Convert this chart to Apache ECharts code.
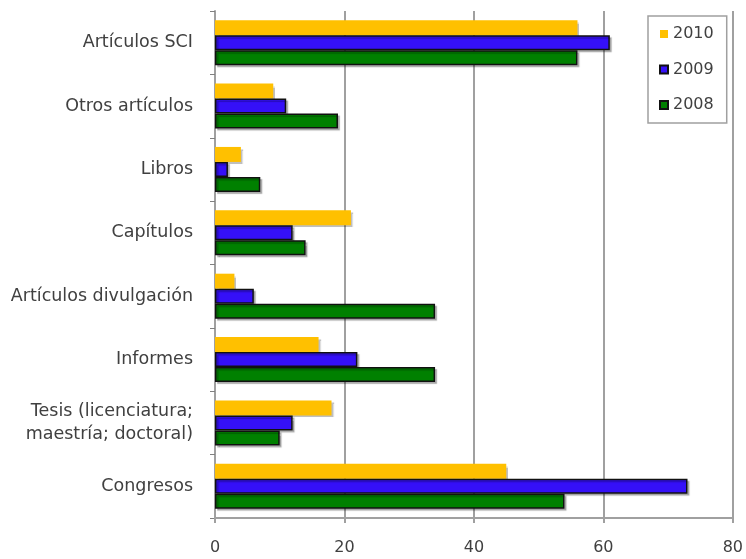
<!DOCTYPE html>
<html>
<head>
<meta charset="utf-8">
<script src="https://cdn.jsdelivr.net/npm/echarts@6/dist/echarts.min.js"></script>
<style>html,body{margin:0;padding:0;background:#fff}#c{width:746px;height:559px}</style>
</head>
<body>
<div id="c"></div>
<script>
const categories = ["Artículos SCI", "Otros artículos", "Libros", "Capítulos", "Artículos divulgación", "Informes", "Tesis (licenciatura;\nmaestría; doctoral)", "Congresos"];
const seriesNames = ["2010", "2009", "2008"];
const values2010 = [56, 9, 4, 21, 3, 16, 18, 45];
const values2009 = [61, 11, 2, 12, 6, 22, 12, 73];
const values2008 = [56, 19, 7, 14, 34, 34, 10, 54];
const xTicks = [0, 20, 40, 60, 80];

const colors = ["#FFC000", "#3510F8", "#008000"];
const borders = [0, 1.5, 1.5];
const allValues = [values2010, values2009, values2008];

const chart = echarts.init(document.getElementById('c'), null, {renderer: 'canvas'});
const font = "DejaVu Sans";
chart.setOption({
  animation: false,
  backgroundColor: '#fff',
  grid: {left: 215, right: 11, top: 11, bottom: 41, containLabel: false},
  xAxis: {
    type: 'value', min: xTicks[0], max: xTicks[xTicks.length - 1], interval: 20,
    axisLine: {show: true, lineStyle: {color: '#a0a0a0', width: 2}},
    axisTick: {show: true, length: 5, lineStyle: {color: '#a0a0a0', width: 2}},
    splitLine: {show: true, lineStyle: {color: '#a0a0a0', width: 2}},
    axisLabel: {color: '#404040', fontFamily: font, fontSize: 16, margin: 22}
  },
  yAxis: {
    type: 'category', data: categories, inverse: true,
    axisLine: {show: true, lineStyle: {color: '#a0a0a0', width: 2}},
    axisTick: {show: true, length: 5, lineStyle: {color: '#808080', width: 1}},
    axisLabel: {color: '#404040', fontFamily: font, fontSize: 17.5, margin: 22, lineHeight: 23, align: 'right'}
  },
  legend: {
    data: seriesNames,
    orient: 'vertical', left: 648, top: 16,
    padding: [10, 13, 10, 11],
    itemWidth: 8, itemHeight: 8, itemGap: 19.5,
    borderColor: '#a0a0a0', borderWidth: 1.5,
    textStyle: {color: '#404040', fontFamily: font, fontSize: 16},
    icon: 'rect'
  },
  series: seriesNames.map((n, i) => ({
    name: n, type: 'bar', data: allValues[i],
    barWidth: 15, barGap: '0%',
    itemStyle: {
      color: colors[i],
      borderColor: borders[i] ? '#111' : colors[i],
      borderWidth: borders[i],
      shadowColor: 'rgba(0,0,0,0.25)', shadowOffsetX: 2, shadowOffsetY: 2, shadowBlur: 1
    }
  }))
});
</script>
</body>
</html>
